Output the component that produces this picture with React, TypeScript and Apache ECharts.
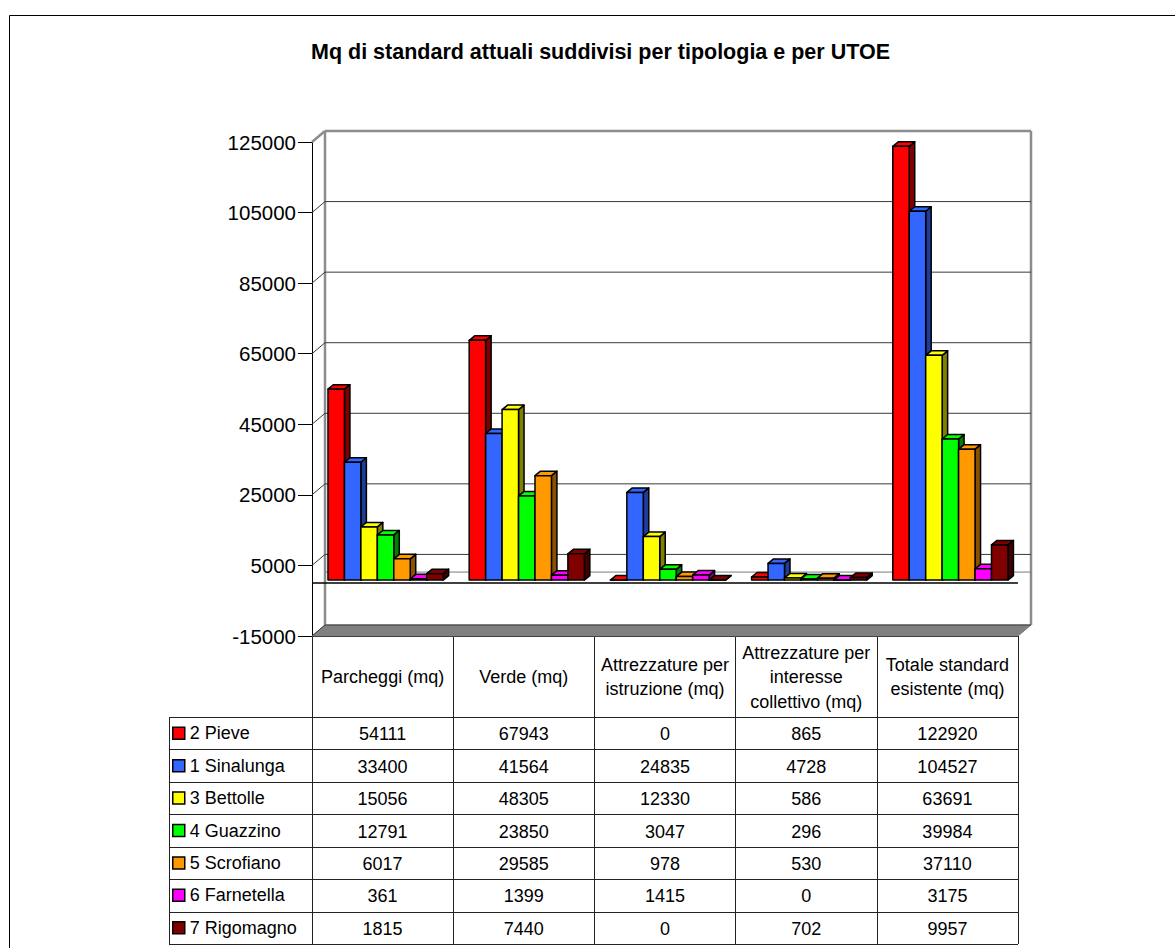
import React, { useEffect, useRef } from 'react';
import * as echarts from 'echarts';

// ---- data ----
const chartTitle = 'Mq di standard attuali suddivisi per tipologia e per UTOE';
const categories = [
  'Parcheggi (mq)',
  'Verde (mq)',
  'Attrezzature per\nistruzione (mq)',
  'Attrezzature per\ninteresse\ncollettivo (mq)',
  'Totale standard\nesistente (mq)',
];
const towns = ['2 Pieve', '1 Sinalunga', '3 Bettolle', '4 Guazzino', '5 Scrofiano', '6 Farnetella', '7 Rigomagno'];
const pieve = [54111, 67943, 0, 865, 122920];
const sinalunga = [33400, 41564, 24835, 4728, 104527];
const bettolle = [15056, 48305, 12330, 586, 63691];
const guazzino = [12791, 23850, 3047, 296, 39984];
const scrofiano = [6017, 29585, 978, 530, 37110];
const farnetella = [361, 1399, 1415, 0, 3175];
const rigomagno = [1815, 7440, 0, 702, 9957];
const seriesValues = [pieve, sinalunga, bettolle, guazzino, scrofiano, farnetella, rigomagno];
const yTicks = [-15000, 5000, 25000, 45000, 65000, 85000, 105000, 125000];

// ---- styling ----
const FONT = '"Liberation Sans", Arial, sans-serif';
const faceColors = ['#FF0000', '#3366FF', '#FFFF00', '#00FF00', '#FF9900', '#FF00FF', '#800000'];
const sideColors = ['#800000', '#1F3C99', '#808000', '#008000', '#8A5200', '#800080', '#400000'];

const W = 1175;
const H = 948;
const GRID_LEFT = 312;
const GRID_TOP = 142;
const GRID_W = 706;
const GRID_H = 494;
const WALL_DX = 13; // depth of the back wall
const WALL_DY = -11;
const FRONT_DX = 3; // bar front plane offset
const FRONT_DY = -3;
const BAR_DX = 5.5; // bar depth
const BAR_DY = -4.5;
const BAR_GAP_FRAC = 0.092;
const BAR_W_FRAC = 0.1165;
const HEADER_BOTTOM = 717;
const ROW_H = 32.43;
const TABLE_LEFT = 169;
const TABLE_BOTTOM = HEADER_BOTTOM + ROW_H * towns.length;
const GRID_COLOR = '#3a3a3a';
const WALL_EDGE = '#8c8c8c';

function bandInfo(api: any, v: number) {
  const band = api.size([1, 0])[0];
  const [cx0, y] = api.coord([0, v]);
  const left = cx0 - band / 2;
  const right = api.coord([categories.length - 1, v])[0] + band / 2;
  return { band, left, right, y };
}

export default function App() {
  const ref = useRef<HTMLDivElement>(null);

  useEffect(() => {
    if (!ref.current) return;
    const chart = echarts.init(ref.current, null, { renderer: 'svg' });

    // back wall, floor and zero plane
    const wallSeries: any = {
      type: 'custom',
      name: 'walls',
      z: 1,
      clip: false,
      silent: true,
      data: [[0, 0]],
      renderItem: (_p: any, api: any) => {
        const top = bandInfo(api, yTicks[yTicks.length - 1]);
        const bottom = bandInfo(api, yTicks[0]);
        const zero = bandInfo(api, 0);
        return {
          type: 'group',
          children: [
            {
              type: 'polygon',
              shape: {
                points: [
                  [bottom.left, bottom.y],
                  [bottom.right, bottom.y],
                  [bottom.right + WALL_DX, bottom.y + WALL_DY],
                  [bottom.left + WALL_DX, bottom.y + WALL_DY],
                ],
              },
              style: { fill: '#808080', stroke: '#808080', lineWidth: 1 },
            },
            {
              type: 'line',
              shape: { x1: top.left + WALL_DX, y1: top.y + WALL_DY, x2: bottom.left + WALL_DX, y2: bottom.y + WALL_DY },
              style: { stroke: WALL_EDGE, lineWidth: 2.5 },
            },
            {
              type: 'line',
              shape: { x1: top.right + WALL_DX, y1: top.y + WALL_DY, x2: bottom.right + WALL_DX, y2: bottom.y + WALL_DY },
              style: { stroke: WALL_EDGE, lineWidth: 2.5 },
            },
            {
              type: 'line',
              shape: { x1: zero.left + WALL_DX, y1: zero.y + WALL_DY, x2: zero.right + WALL_DX, y2: zero.y + WALL_DY },
              style: { stroke: '#7a7a7a', lineWidth: 1 },
            },
            {
              type: 'line',
              shape: { x1: zero.left, y1: zero.y, x2: zero.right, y2: zero.y },
              style: { stroke: '#000', lineWidth: 1.5 },
            },
          ],
        };
      },
    };

    // gridlines on the back wall and side wall
    const gridSeries: any = {
      type: 'custom',
      name: 'gridlines',
      z: 1,
      clip: false,
      silent: true,
      data: yTicks.map((v) => [0, v]),
      renderItem: (_p: any, api: any) => {
        const v = api.value(1);
        const b = bandInfo(api, v);
        const isTop = v === yTicks[yTicks.length - 1];
        const stroke = isTop ? WALL_EDGE : GRID_COLOR;
        const lw = isTop ? 2.5 : 1;
        return {
          type: 'group',
          children: [
            {
              type: 'line',
              shape: { x1: b.left + WALL_DX, y1: b.y + WALL_DY, x2: b.right + WALL_DX, y2: b.y + WALL_DY },
              style: { stroke, lineWidth: lw },
            },
            {
              type: 'line',
              shape: { x1: b.left, y1: b.y, x2: b.left + WALL_DX, y2: b.y + WALL_DY },
              style: { stroke, lineWidth: lw },
            },
          ],
        };
      },
    };

    // 3D columns, one series per UTOE
    const barSeries = towns.map((name, s) => ({
      type: 'custom',
      name,
      z: 3,
      clip: false,
      itemStyle: { color: faceColors[s] },
      data: seriesValues[s].map((v, c) => [c, v]),
      renderItem: (_p: any, api: any) => {
        const c = api.value(0);
        const v = api.value(1);
        const band = api.size([1, 0])[0];
        const [cx, yTop0] = api.coord([c, v]);
        const yBase0 = api.coord([c, 0])[1];
        const bw = band * BAR_W_FRAC;
        const x0 = cx - band / 2 + band * BAR_GAP_FRAC + s * bw + FRONT_DX;
        const x1 = x0 + bw;
        const yTop = yTop0 + FRONT_DY;
        const yBase = yBase0 + FRONT_DY;
        const line = { stroke: '#000', lineWidth: 1.5, lineJoin: 'round' };
        return {
          type: 'group',
          children: [
            {
              type: 'polygon',
              shape: {
                points: [
                  [x1, yTop],
                  [x1 + BAR_DX, yTop + BAR_DY],
                  [x1 + BAR_DX, yBase + BAR_DY],
                  [x1, yBase],
                ],
              },
              style: { fill: sideColors[s], ...line },
            },
            {
              type: 'polygon',
              shape: {
                points: [
                  [x0, yTop],
                  [x1, yTop],
                  [x1 + BAR_DX, yTop + BAR_DY],
                  [x0 + BAR_DX, yTop + BAR_DY],
                ],
              },
              style: { fill: faceColors[s], ...line },
            },
            {
              type: 'rect',
              shape: { x: x0, y: yTop, width: bw, height: yBase - yTop },
              style: { fill: faceColors[s], ...line },
            },
          ],
        };
      },
    }));

    // data table beneath the plot
    const colW = GRID_W / categories.length;
    const tableGraphics: any[] = [];
    for (let r = 0; r <= towns.length; r++) {
      const y = Math.round(HEADER_BOTTOM + r * ROW_H) + 0.5;
      tableGraphics.push({
        type: 'line',
        z: 20,
        shape: { x1: TABLE_LEFT, y1: y, x2: GRID_LEFT + GRID_W, y2: y },
        style: { stroke: '#222', lineWidth: 1 },
      });
    }
    tableGraphics.push({
      type: 'line',
      z: 20,
      shape: { x1: TABLE_LEFT + 0.5, y1: HEADER_BOTTOM, x2: TABLE_LEFT + 0.5, y2: TABLE_BOTTOM },
      style: { stroke: '#222', lineWidth: 1 },
    });
    seriesValues.forEach((vals, s) => {
      vals.forEach((v, c) => {
        tableGraphics.push({
          type: 'text',
          z: 20,
          x: GRID_LEFT + (c + 0.5) * colW,
          y: HEADER_BOTTOM + (s + 0.5) * ROW_H + 1,
          style: {
            text: String(v),
            fill: '#000',
            font: `18px ${FONT}`,
            textAlign: 'center',
            textVerticalAlign: 'middle',
          },
        });
      });
    });

    chart.setOption({
      animation: false,
      backgroundColor: '#fff',
      textStyle: { fontFamily: FONT },
      color: faceColors,
      title: {
        text: chartTitle,
        left: 311,
        top: 41,
        padding: 0,
        textStyle: { fontSize: 21.5, fontWeight: 'bold', color: '#000', fontFamily: FONT },
      },
      legend: {
        data: towns,
        orient: 'vertical',
        left: TABLE_LEFT + 3,
        top: HEADER_BOTTOM,
        padding: 0,
        itemGap: 0,
        itemWidth: 12,
        itemHeight: 12,
        icon: 'rect',
        selectedMode: false,
        itemStyle: { borderColor: '#000', borderWidth: 1.5 },
        textStyle: { fontSize: 18, color: '#000', fontFamily: FONT, lineHeight: ROW_H },
      },
      grid: {
        left: GRID_LEFT,
        top: GRID_TOP,
        width: GRID_W,
        height: GRID_H,
        containLabel: false,
      },
      xAxis: {
        type: 'category',
        data: categories,
        boundaryGap: true,
        axisLine: { show: true, onZero: false, lineStyle: { color: '#000', width: 1 } },
        axisTick: {
          show: true,
          interval: 0,
          alignWithLabel: false,
          length: TABLE_BOTTOM - (GRID_TOP + GRID_H),
          lineStyle: { color: '#222', width: 1 },
        },
        axisLabel: {
          interval: 0,
          margin: 41,
          verticalAlign: 'middle',
          align: 'center',
          fontSize: 18,
          lineHeight: 24.5,
          color: '#000',
          fontFamily: FONT,
        },
        splitLine: { show: false },
      },
      yAxis: {
        type: 'value',
        min: yTicks[0],
        max: yTicks[yTicks.length - 1],
        axisLine: { show: true, lineStyle: { color: '#000', width: 1 } },
        axisTick: { show: true, length: 14, customValues: yTicks, lineStyle: { color: '#000', width: 1 } },
        axisLabel: {
          customValues: yTicks,
          margin: 16,
          fontSize: 20.5,
          color: '#000',
          fontFamily: FONT,
          formatter: (v: number) => String(v),
        },
        splitLine: { show: false },
      },
      graphic: [
        {
          type: 'rect',
          z: -10,
          silent: true,
          shape: { x: 9.5, y: 15.5, width: W + 200, height: H + 200 },
          style: { fill: 'none', stroke: '#000', lineWidth: 1 },
        },
        ...tableGraphics,
      ],
      series: [wallSeries, gridSeries, ...barSeries],
    });

    return () => chart.dispose();
  }, []);

  return (
    <div
      ref={ref}
      style={{ position: 'fixed', left: 0, top: 0, width: W, height: H, background: '#fff' }}
    />
  );
}
